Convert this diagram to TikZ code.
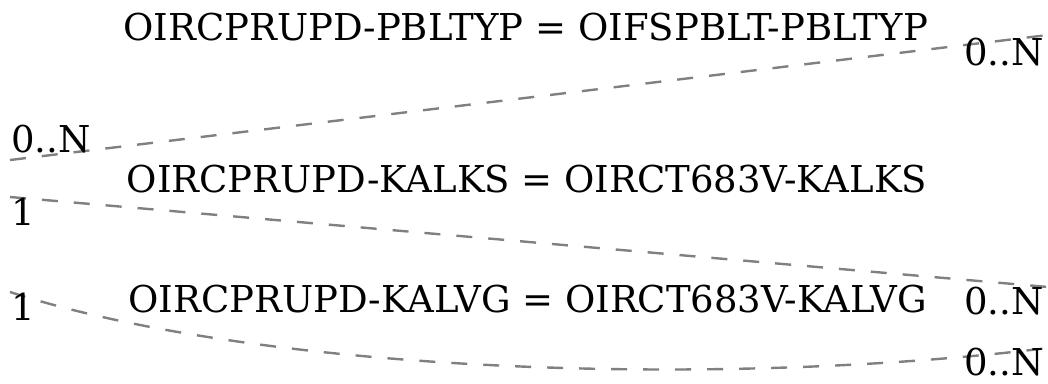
\documentclass[tikz,border=0pt]{standalone}
\usepackage{fontspec}
\setmainfont{DejaVu Serif}
\begin{document}
\begin{tikzpicture}[x=1pt,y=-1pt,
  lbl/.style={inner sep=0pt,font=\fontsize{37}{40}\selectfont},
  rel/.style={draw=gray,dash pattern=on 16pt off 16pt,line width=2.4pt}]
\useasboundingbox (0,0) rectangle (1048,383);
% connectors
\coordinate (a1) at (10,160);
\coordinate (a2) at (1048,35);
\coordinate (b1) at (10,197);
\coordinate (b2) at (1048,287);
\coordinate (c1) at (10,292);
\coordinate (c2) at (1048,348);
\draw[rel] (a1) -- (a2);
\draw[rel] (b1) -- (b2);
\draw[rel] (c1) .. controls (250,370) and (700,390) .. (c2);
% labels
\node[lbl,anchor=base] (t1) at (525.5,40) {OIRCPRUPD-PBLTYP = OIFSPBLT-PBLTYP};
\node[lbl,anchor=base] (t2) at (527,192) {OIRCPRUPD-KALKS = OIRCT683V-KALKS};
\node[lbl,anchor=base] (t3) at (527.5,312) {OIRCPRUPD-KALVG = OIRCT683V-KALVG};
\node[lbl,anchor=base west] (m1) at (11,152) {0..N};
\node[lbl,anchor=base east] (m2) at (1044,65) {0..N};
\node[lbl,anchor=base west] (m3) at (11,225) {1};
\node[lbl,anchor=base east] (m4) at (1044,314) {0..N};
\node[lbl,anchor=base west] (m5) at (11,320) {1};
\node[lbl,anchor=base east] (m6) at (1044,375) {0..N};
\end{tikzpicture}
\end{document}
